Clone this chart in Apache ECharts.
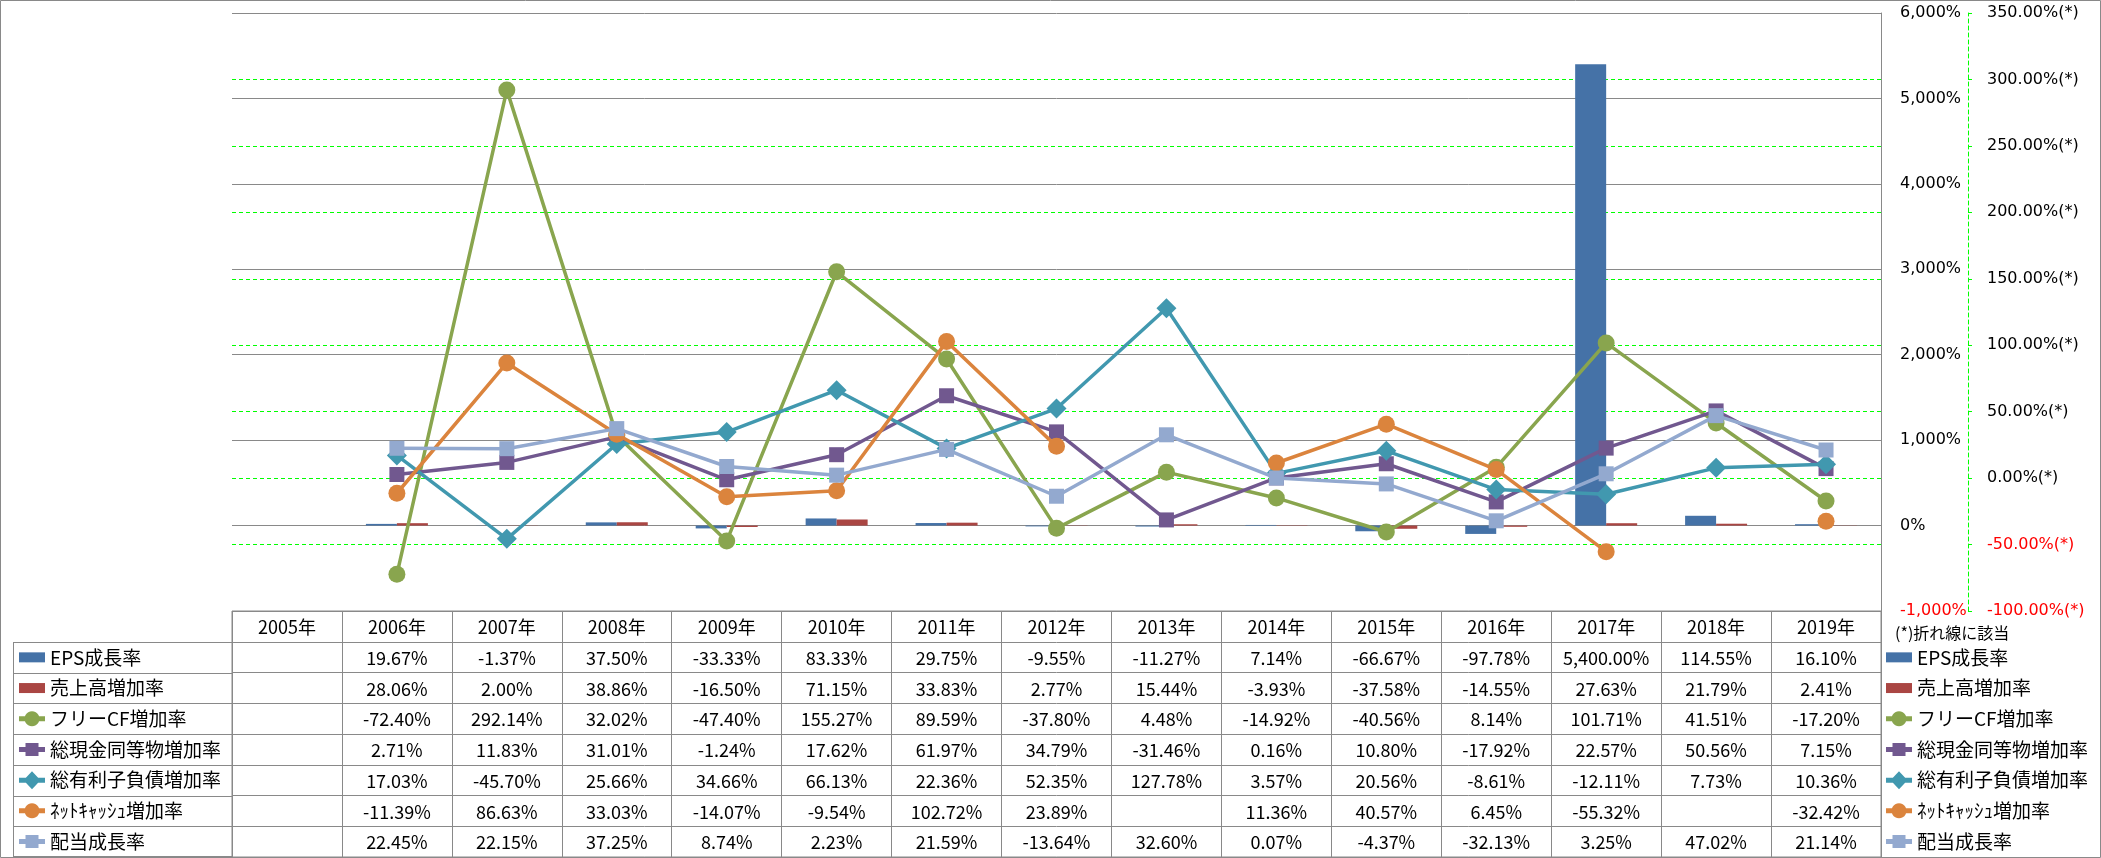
<!DOCTYPE html>
<html><head><meta charset="utf-8">
<script src="https://cdn.jsdelivr.net/npm/echarts@6/dist/echarts.min.js"></script>
<style>html,body{margin:0;padding:0;background:#fff}#c{width:2101px;height:858px}</style>
</head><body><div id="c"></div>
<script>
const years = ['2005年','2006年','2007年','2008年','2009年','2010年','2011年','2012年','2013年','2014年','2015年','2016年','2017年','2018年','2019年'];
const seriesNames = ['EPS成長率','売上高増加率','フリーCF増加率','総現金同等物増加率','総有利子負債増加率','ﾈｯﾄｷｬｯｼｭ増加率','配当成長率'];
const epsGrowth   = [null, 19.67, -1.37, 37.50, -33.33, 83.33, 29.75, -9.55, -11.27, 7.14, -66.67, -97.78, 5400.00, 114.55, 16.10];
const salesGrowth = [null, 28.06, 2.00, 38.86, -16.50, 71.15, 33.83, 2.77, 15.44, -3.93, -37.58, -14.55, 27.63, 21.79, 2.41];
const fcfGrowth   = [null, -72.40, 292.14, 32.02, -47.40, 155.27, 89.59, -37.80, 4.48, -14.92, -40.56, 8.14, 101.71, 41.51, -17.20];
const cashGrowth  = [null, 2.71, 11.83, 31.01, -1.24, 17.62, 61.97, 34.79, -31.46, 0.16, 10.80, -17.92, 22.57, 50.56, 7.15];
const debtGrowth  = [null, 17.03, -45.70, 25.66, 34.66, 66.13, 22.36, 52.35, 127.78, 3.57, 20.56, -8.61, -12.11, 7.73, 10.36];
const netCashGrowth = [null, -11.39, 86.63, 33.03, -14.07, -9.54, 102.72, 23.89, null, 11.36, 40.57, 6.45, -55.32, null, -32.42];
const divGrowth   = [null, 22.45, 22.15, 37.25, 8.74, 2.23, 21.59, -13.64, 32.60, 0.07, -4.37, -32.13, 3.25, 47.02, 21.14];
const leftAxisRange = {min: -1000, max: 6000, interval: 1000};
const rightAxisRange = {min: -100, max: 350, interval: 50};
const rightNote = '(*)折れ線に該当';

const allValues = [epsGrowth, salesGrowth, fcfGrowth, cashGrowth, debtGrowth, netCashGrowth, divGrowth];
const colors = ['#4572A7','#AA4643','#89A54E','#71588F','#4198AF','#DB843D','#93A9CF'];
const symbols = [null, null, 'circle', 'rect', 'diamond', 'circle', 'rect'];
const symbolSizes = [0, 0, 17, 15, 20, 17, 15];
const GRAY = '#898989';
const CJK = '"Noto Sans CJK JP", "Noto Sans", sans-serif';
const AXF = '"DejaVu Sans", Verdana, sans-serif';

// legend key shapes (Excel style: thick line with marker / flat rectangle)
const BOX = 'M0,0M26,18';
const LINE = 'M0,6.5h8v5h-8zM18,6.5h8v5h-8z';
function circlePath(cx, cy, r){
  let s = '';
  for (let k = 0; k < 24; k++) {
    const a = k / 24 * Math.PI * 2;
    s += (k === 0 ? 'M' : 'L') + (cx + r * Math.cos(a)).toFixed(2) + ',' + (cy + r * Math.sin(a)).toFixed(2);
  }
  return s + 'z';
}
const legendIcons = {
  bar: 'path://' + BOX + 'M0,4h26v10h-26z',
  circle: 'path://' + BOX + LINE + circlePath(13, 9, 7.5),
  rect: 'path://' + BOX + LINE + 'M6.5,2.5h13v13h-13z',
  diamond: 'path://' + BOX + LINE + 'M13,0L21.5,9L13,18L4.5,9z'
};

function fmtCell(v){
  if (v === null || v === undefined) return '';
  return v.toLocaleString('en-US',{minimumFractionDigits:2, maximumFractionDigits:2}) + '%';
}

const tableCells = [];
years.forEach((y, c) => tableCells.push({col: c, row: 0, text: y, header: true}));
allValues.forEach((arr, r) => arr.forEach((v, c) => tableCells.push({col: c, row: r + 1, text: fmtCell(v)})));
const rowCats = ['hdr'].concat(seriesNames);

const series = [];
allValues.forEach((arr, i) => {
  if (i < 2) {
    series.push({
      name: seriesNames[i], type: 'bar', xAxisIndex: 0, yAxisIndex: 0,
      data: arr, barWidth: 31, barGap: '0%',
      itemStyle: {color: colors[i]}, z: 2
    });
  } else {
    series.push({
      name: seriesNames[i], type: 'line', xAxisIndex: 0, yAxisIndex: 1,
      data: arr, connectNulls: false,
      symbol: symbols[i], symbolSize: symbolSizes[i], showAllSymbol: true,
      lineStyle: {color: colors[i], width: 3.5},
      itemStyle: {color: colors[i]}, z: 3 + i
    });
  }
});
series.push({
  type: 'custom', xAxisIndex: 1, yAxisIndex: 2, silent: true,
  data: tableCells.map(d => [d.col, d.row]),
  renderItem: function(params, api){
    const d = tableCells[params.dataIndex];
    const p = api.coord([api.value(0), api.value(1)]);
    return {type: 'text', x: p[0], y: p[1] + 1,
      style: {text: d.text, fontSize: 18, fontFamily: CJK, fill: '#000', align: 'center', verticalAlign: 'middle'}};
  }
});

const legendData = seriesNames.map((n, i) => ({
  name: n,
  icon: i < 2 ? legendIcons.bar : legendIcons[symbols[i]],
  itemStyle: {color: colors[i], borderWidth: 0},
  lineStyle: {width: 0}
}));
function mkLegend(left){
  return {
    orient: 'vertical', left: left, top: 642, padding: 0, itemGap: 0,
    itemWidth: 26, itemHeight: 18, selectedMode: false,
    data: legendData,
    textStyle: {fontFamily: CJK, fontSize: 19, color: '#000', lineHeight: 30.7}
  };
}

const option = {
  animation: false,
  backgroundColor: '#fff',
  grid: [
    {left: 232, right: 220, top: 13, height: 598},
    {left: 232, right: 220, top: 611, height: 246, show: true, borderColor: GRAY, borderWidth: 1}
  ],
  legend: [mkLegend(19), mkLegend(1886)],
  xAxis: [
    {type: 'category', gridIndex: 0, data: years, boundaryGap: true,
     axisLine: {show: false}, axisTick: {show: false}, axisLabel: {show: false}, splitLine: {show: false}},
    {type: 'category', gridIndex: 1, data: years, boundaryGap: true,
     axisLine: {show: false}, axisTick: {show: false, interval: 0}, axisLabel: {show: false, interval: 0},
     splitLine: {show: true, interval: 0, lineStyle: {color: GRAY, width: 1}}}
  ],
  yAxis: [
    {type: 'value', gridIndex: 0, position: 'right', min: leftAxisRange.min, max: leftAxisRange.max, interval: leftAxisRange.interval,
     axisLine: {show: true, lineStyle: {color: GRAY, width: 1}}, axisTick: {show: false},
     axisLabel: {margin: 19, fontFamily: AXF, fontSize: 16,
       color: v => (Number(v) < 0 ? '#FF0000' : '#000'),
       formatter: v => v.toLocaleString('en-US') + '%'},
     splitLine: {show: true, lineStyle: {color: GRAY, width: 1}}, z: 1},
    {type: 'value', gridIndex: 0, position: 'right', offset: 87, min: rightAxisRange.min, max: rightAxisRange.max, interval: rightAxisRange.interval,
     axisLine: {show: true, lineStyle: {color: '#00FF00', width: 1, type: [4, 3]}},
     axisTick: {show: true, inside: false, length: 5, lineStyle: {color: '#00FF00', type: [4, 3]}},
     axisLabel: {margin: 19, fontFamily: AXF, fontSize: 16,
       color: v => (Number(v) < 0 ? '#FF0000' : '#000'),
       formatter: v => v.toFixed(2) + '%(*)'},
     splitLine: {show: true, showMinLine: false, showMaxLine: false, lineStyle: {color: '#00FF00', width: 1, type: [4, 3]}}, z: 0},
    {type: 'category', gridIndex: 1, data: rowCats, inverse: true, boundaryGap: true,
     axisLine: {show: false}, axisTick: {show: false, interval: 0}, axisLabel: {show: false, interval: 0},
     splitLine: {show: true, interval: 0, lineStyle: {color: GRAY, width: 1}}}
  ],
  series: series,
  graphic: []
};

const chart = echarts.init(document.getElementById('c'), null, {renderer: 'canvas'});
chart.setOption(option);

// decorations: outer frame, left column borders of the data table, note text
const g = [{type: 'rect', shape: {x: 0.5, y: 0.5, width: 2100, height: 857}, style: {fill: null, stroke: GRAY, lineWidth: 1}, silent: true, z: 100}];
const colLeft = 13;
const gridLeft = 232;
for (let r = 1; r < rowCats.length; r++) {
  const yc = chart.convertToPixel({yAxisIndex: 2}, rowCats[r]);
  const prev = chart.convertToPixel({yAxisIndex: 2}, rowCats[r - 1]);
  const half = (yc - prev) / 2;
  const yTop = Math.round(yc - half) + 0.5;
  g.push({type: 'line', shape: {x1: colLeft, y1: yTop, x2: gridLeft, y2: yTop}, style: {stroke: GRAY, lineWidth: 1}, silent: true});
  if (r === rowCats.length - 1) {
    const yBot = Math.round(yc + half) - 0.5;
    g.push({type: 'line', shape: {x1: colLeft, y1: yBot, x2: gridLeft, y2: yBot}, style: {stroke: GRAY, lineWidth: 1}, silent: true});
    const y1 = chart.convertToPixel({yAxisIndex: 2}, rowCats[1]) - half;
    g.push({type: 'line', shape: {x1: colLeft + 0.5, y1: Math.round(y1), x2: colLeft + 0.5, y2: yBot}, style: {stroke: GRAY, lineWidth: 1}, silent: true});
  }
}
g.push({type: 'text', x: 1895, y: 633, style: {text: rightNote, fontFamily: CJK, fontSize: 16, fill: '#000', verticalAlign: 'middle', align: 'left'}, silent: true});
chart.setOption({graphic: g});
</script></body></html>
